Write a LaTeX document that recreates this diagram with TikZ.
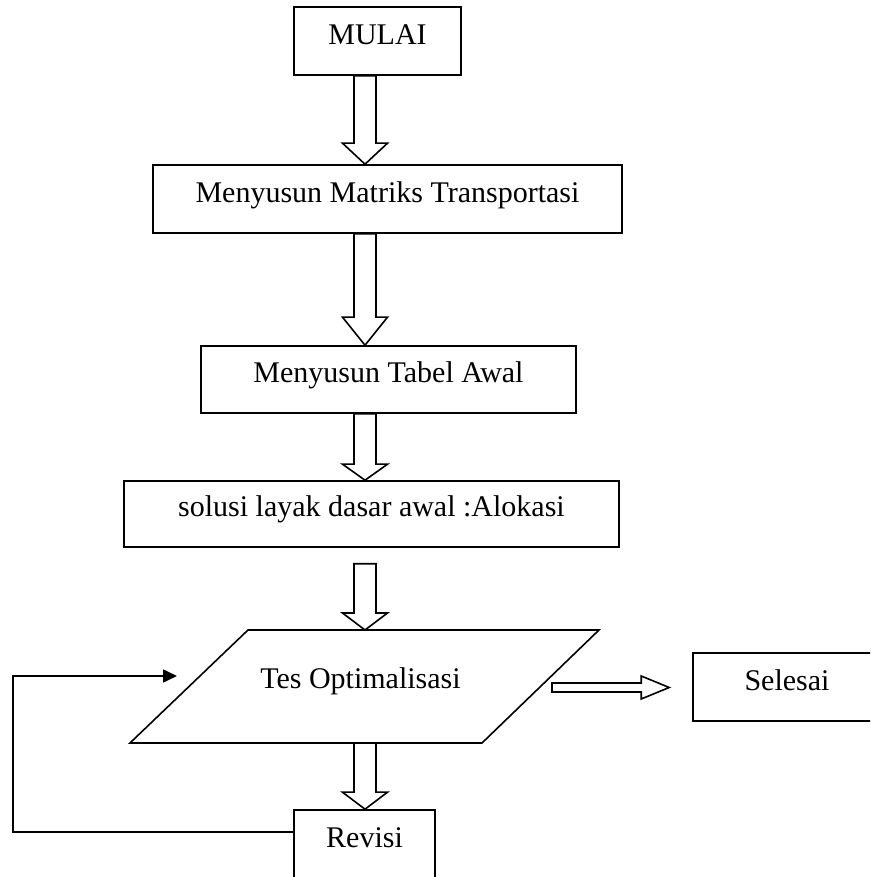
\documentclass[tikz,border=0pt]{standalone}
\usepackage{fontspec}
\setmainfont{Liberation Serif}
\usetikzlibrary{calc,arrows.meta}
\newcommand{\bdown}[3]{%
  \draw[blk] ($(#1)+(-11,0)$) -- ($(#2)+(-11,#3)$) -- ($(#2)+(-22.5,#3)$) -- (#2)
    -- ($(#2)+(22.5,#3)$) -- ($(#2)+(11,#3)$) -- ($(#1)+(11,0)$) -- cycle;}
\newcommand{\bright}[3]{%
  \draw[blk] ($(#1)+(0,4.5)$) -- ($(#2)+(-#3,4.5)$) -- ($(#2)+(-#3,11.5)$) -- (#2)
    -- ($(#2)+(-#3,-11.5)$) -- ($(#2)+(-#3,-4.5)$) -- ($(#1)+(0,-4.5)$) -- cycle;}
\begin{document}
\begin{tikzpicture}[x=1pt,y=1pt,
  lw/.style={line width=1.6pt},
  txt/.style={font=\fontsize{30}{36}\selectfont},
  box/.style={draw, lw, inner sep=0pt, text height=38pt, txt},
  blk/.style={draw, lw, fill=white, line join=miter},
  fb/.style={lw, -{Triangle[length=14pt,width=13pt]}}]
\useasboundingbox (0,0) rectangle (870,877);
\clip (0,0) rectangle (870,877);
% boxes
\node[box, minimum width=167pt, text depth=30pt] (mulai) at (377.5,836) {MULAI};
\node[box, minimum width=469pt, text depth=30pt] (matriks) at (387.5,678) {Menyusun Matriks Transportasi};
\node[box, minimum width=375pt, text height=37pt, text depth=30pt] (tabel) at (388.5,497.5) {Menyusun Tabel Awal};
\node[box, minimum width=495pt, text height=36pt, text depth=30pt] (solusi) at (371.5,363) {solusi layak dasar awal :Alokasi};
\node[box, minimum width=188pt, text depth=30pt] (selesai) at (787,190) {Selesai};
\node[box, minimum width=141pt, text depth=34pt] (revisi) at (364.5,31) {Revisi};
% parallelogram
\coordinate (ptl) at (248,247);
\coordinate (ptr) at (599,247);
\coordinate (pbr) at (482,134);
\coordinate (pbl) at (130,134);
\draw[lw, line join=miter] (ptl) -- (ptr) -- (pbr) -- (pbl) -- cycle;
\node[txt, anchor=base] (tes) at (360.5,188) {Tes Optimalisasi};
% block arrows
\coordinate (ax) at (365,0);
\bdown{mulai.south -| ax}{matriks.north -| ax}{21}
\bdown{matriks.south -| ax}{tabel.north -| ax}{28}
\bdown{tabel.south -| ax}{solusi.north -| ax}{16}
\coordinate (a4) at ($(solusi.south -| ax)+(0,-16)$);
\bdown{a4}{ptl -| ax}{17}
\bdown{pbl -| ax}{revisi.north -| ax}{17}
\coordinate (r0) at (552,189.5);
\coordinate (r1) at ($(selesai.west)+(-23,-0.5)$);
\bright{r0}{r1}{28}
% feedback
\coordinate (fbc) at (13,201);
\coordinate (fbend) at (177,201);
\draw[fb] ($(revisi.north west)+(0,-23)$) -| (fbc) -- (fbend);
\end{tikzpicture}
\end{document}
